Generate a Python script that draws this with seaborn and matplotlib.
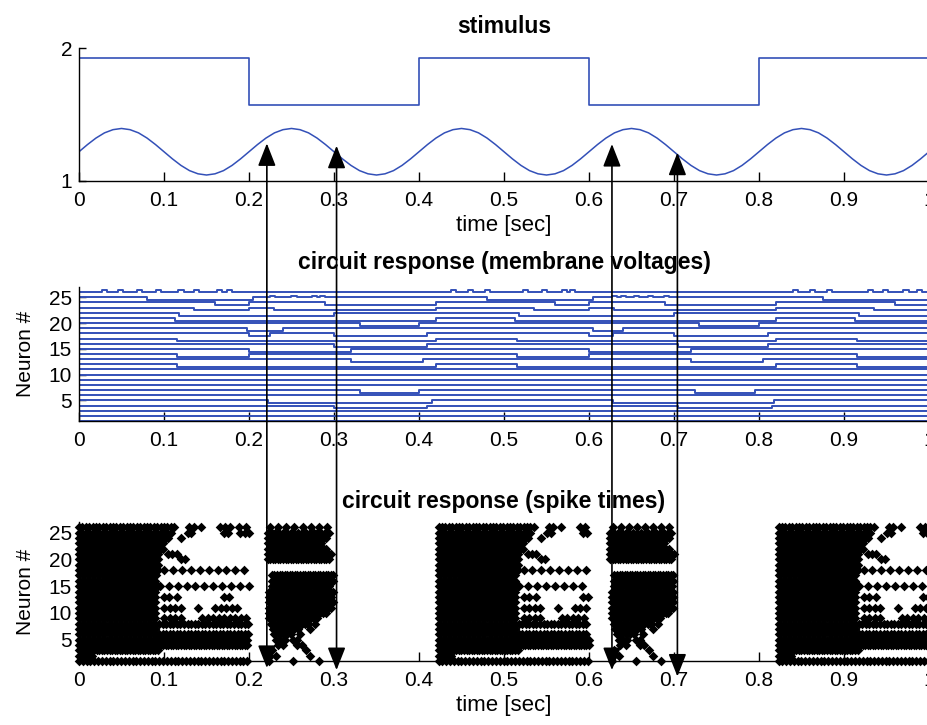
import numpy as np
import pandas as pd
import matplotlib.pyplot as plt
import seaborn as sns
from matplotlib.patches import ConnectionPatch

# ---------------- data ----------------
# stimulus panel
square_t = [0.0, 0.2, 0.4, 0.6, 0.8, 1.0]
square_v = [1.922, 1.571, 1.922, 1.571, 1.922, 1.922]

sine_t = [round(0.01 * i, 2) for i in range(101)]
sine_v = [1.220, 1.274, 1.323, 1.362, 1.386, 1.395, 1.386, 1.362, 1.323, 1.274,
          1.220, 1.166, 1.117, 1.078, 1.054, 1.045, 1.054, 1.078, 1.117, 1.166,
          1.220, 1.274, 1.323, 1.362, 1.386, 1.395, 1.386, 1.362, 1.323, 1.274,
          1.220, 1.166, 1.117, 1.078, 1.054, 1.045, 1.054, 1.078, 1.117, 1.166,
          1.220, 1.274, 1.323, 1.362, 1.386, 1.395, 1.386, 1.362, 1.323, 1.274,
          1.220, 1.166, 1.117, 1.078, 1.054, 1.045, 1.054, 1.078, 1.117, 1.166,
          1.220, 1.274, 1.323, 1.362, 1.386, 1.395, 1.386, 1.362, 1.323, 1.274,
          1.220, 1.166, 1.117, 1.078, 1.054, 1.045, 1.054, 1.078, 1.117, 1.166,
          1.220, 1.274, 1.323, 1.362, 1.386, 1.395, 1.386, 1.362, 1.323, 1.274,
          1.220, 1.166, 1.117, 1.078, 1.054, 1.045, 1.054, 1.078, 1.117, 1.166,
          1.220]

# membrane voltages: intervals where each neuron's trace sits in the lower state
neurons = list(range(1, 27))
volt_shift = -0.55
volt_down = [
    [], [], [],                                                              # 1-3
    [(0.30, 0.41), (0.705, 0.815)],                                          # 4
    [(0.222, 0.415), (0.628, 0.818)],                                        # 5
    [],                                                                      # 6
    [(0.33, 0.40), (0.725, 0.795)],                                          # 7
    [], [], [], [],                                                          # 8-11
    [(0.115, 0.42), (0.515, 0.82), (0.915, 1.0)],                            # 12
    [(0.32, 0.405), (0.72, 0.805)],                                          # 13
    [(0.115, 0.20), (0.515, 0.60), (0.915, 1.0)],                            # 14
    [(0.20, 0.32), (0.60, 0.72)],                                            # 15
    [(0.30, 0.41), (0.705, 0.81)],                                           # 16
    [(0.115, 0.42), (0.515, 0.82), (0.915, 1.0)],                            # 17
    [(0.20, 0.225), (0.30, 0.41), (0.60, 0.628), (0.70, 0.81)],              # 18
    [(0.198, 0.24), (0.605, 0.64)],                                          # 19
    [(0.33, 0.40), (0.73, 0.80)],                                            # 20
    [(0.113, 0.42), (0.513, 0.82), (0.913, 1.0)],                            # 21
    [(0.118, 0.30), (0.518, 0.70), (0.918, 1.0)],                            # 22
    [(0.135, 0.20), (0.23, 0.42), (0.535, 0.60), (0.63, 0.82), (0.935, 1.0)],  # 23
    [(0.16, 0.20), (0.29, 0.42), (0.56, 0.60), (0.69, 0.82), (0.96, 1.0)],   # 24
    [(0.08, 0.205), (0.48, 0.605), (0.875, 1.0)],                            # 25
    [],                                                                      # 26
]
blips_26 = [0.027, 0.046, 0.068, 0.091, 0.117, 0.135, 0.162, 0.174,
            0.438, 0.458, 0.478, 0.522, 0.545, 0.568, 0.578,
            0.84, 0.86, 0.88, 0.928, 0.946, 0.97, 0.986]
blips_25 = [0.225, 0.25, 0.274, 0.283, 0.627, 0.638, 0.653, 0.669, 0.688]

# spike raster: per-neuron firing segments (start, end, inter-spike interval)
high_onsets = [0.0, 0.423, 0.823]
high_ends = [0.2, 0.6, 1.0]
spike_high = [
    [(0.0, 0.2, 0.0045)],                                                   # 1
    [(0.0, 0.015, 0.003)],                                                  # 2
    [(0.0, 0.095, 0.003)],                                                  # 3
    [(0.0, 0.2, 0.003)],                                                    # 4
    [(0.0, 0.2, 0.003)],                                                    # 5
    [(0.0, 0.09, 0.006), (0.09, 0.2, 0.0042)],                              # 6
    [(0.0, 0.09, 0.003)],                                                   # 7
    [(0.0, 0.09, 0.006), (0.09, 0.2, 0.0042)],                              # 8
    [(0.0, 0.09, 0.003), (0.10, 0.125, 0.0065), (0.145, 0.2, 0.0065)],      # 9
    [(0.0, 0.09, 0.003)],                                                   # 10
    [(0.0, 0.09, 0.003), (0.10, 0.12, 0.0065), (0.14, 0.14, 1.0),
     (0.16, 0.19, 0.0065)],                                                 # 11
    [(0.0, 0.09, 0.003)],                                                   # 12
    [(0.0, 0.09, 0.003), (0.10, 0.106, 0.006), (0.115, 0.115, 1.0),
     (0.17, 0.176, 0.006)],                                                 # 13
    [(0.0, 0.09, 0.003)],                                                   # 14
    [(0.0, 0.095, 0.003), (0.095, 0.2, 0.0105)],                            # 15
    [(0.0, 0.09, 0.003)],                                                   # 16
    [(0.0, 0.03, 0.006), (0.03, 0.09, 0.003)],                              # 17
    [(0.0, 0.095, 0.003), (0.10, 0.2, 0.0105)],                             # 18
    [(0.0, 0.095, 0.003)],                                                  # 19
    [(0.0, 0.095, 0.003), (0.12, 0.125, 0.005)],                            # 20
    [(0.0, 0.095, 0.003), (0.105, 0.115, 0.005)],                           # 21
    [(0.0, 0.10, 0.003)],                                                   # 22
    [(0.0, 0.10, 0.003)],                                                   # 23
    [(0.0, 0.105, 0.003), (0.12, 0.12, 1.0)],                               # 24
    [(0.0, 0.11, 0.004), (0.128, 0.132, 0.004), (0.17, 0.175, 0.005),
     (0.19, 0.2, 0.005)],                                                   # 25
    [(0.0, 0.115, 0.004), (0.13, 0.135, 0.005), (0.144, 0.144, 1.0),
     (0.166, 0.18, 0.006), (0.188, 0.196, 0.008)],                          # 26
]
low_onsets = [0.222, 0.625]
low_ends = [0.300, 0.700]
spike_low = [
    [(0.002, 0.002, 1.0), (0.03, 0.03, 1.0), (0.06, 0.06, 1.0)],            # 1
    [(0.003, 0.01, 0.007), (0.05, 0.05, 1.0)],                              # 2
    [(0.005, 0.005, 1.0), (0.045, 0.045, 1.0)],                             # 3
    [(0.012, 0.018, 0.006), (0.035, 0.04, 0.005)],                          # 4
    [(0.01, 0.02, 0.005), (0.03, 0.035, 0.005)],                            # 5
    [(0.008, 0.03, 0.005), (0.038, 0.038, 1.0)],                            # 6
    [(0.006, 0.04, 0.005), (0.05, 0.05, 1.0)],                              # 7
    [(0.004, 0.05, 0.004), (0.056, 0.056, 1.0)],                            # 8
    [(0.002, 0.06, 0.0035)],                                                # 9
    [(0.002, 0.07, 0.003)],                                                 # 10
    [(0.002, 0.075, 0.003)],                                                # 11
    [(0.002, 0.078, 0.003)],                                                # 12
    [(0.002, 0.075, 0.0045)],                                               # 13
    [(0.002, 0.078, 0.003)],                                                # 14
    [(0.005, 0.075, 0.0045)],                                               # 15
    [(0.005, 0.078, 0.003)],                                                # 16
    [(0.005, 0.078, 0.003)],                                                # 17
    [],                                                                     # 18
    [],                                                                     # 19
    [(0.0, 0.072, 0.003)],                                                  # 20
    [(0.0, 0.075, 0.003)],                                                  # 21
    [(0.0, 0.07, 0.003)],                                                   # 22
    [(0.0, 0.065, 0.003)],                                                  # 23
    [(0.0, 0.07, 0.003)],                                                   # 24
    [(0.0, 0.075, 0.0045)],                                                 # 25
    [(0.003, 0.075, 0.0095)],                                               # 26
]

# double arrows: x position, tip in spike panel, tip in stimulus panel
arrow_x = [0.221, 0.303, 0.627, 0.704]
arrow_bottom = [-0.3, -0.7, -0.7, -1.9]
arrow_top = [1.283, 1.265, 1.278, 1.213]

xticks = [0, 0.1, 0.2, 0.3, 0.4, 0.5, 0.6, 0.7, 0.8, 0.9, 1.0]
xticklabels = ["0", "0.1", "0.2", "0.3", "0.4", "0.5", "0.6", "0.7", "0.8", "0.9", "1"]
neuron_ticks = [5, 10, 15, 20, 25]

# ---------------- frames ----------------
stim_df = pd.concat([
    pd.DataFrame({"time": square_t, "value": square_v, "sig": "square"}),
    pd.DataFrame({"time": sine_t, "value": sine_v, "sig": "sine"}),
])

volt_rows = []
for n, downs in zip(neurons, volt_down):
    blips = blips_26 if n == 26 else (blips_25 if n == 25 else [])
    pts = {0.0, 1.0}
    for s, e in downs:
        pts.update([s, e])
    for b in blips:
        pts.update([b, b + 0.006])
    for t in sorted(pts):
        lvl = n
        if any(s <= t < e for s, e in downs):
            lvl += volt_shift
        if any(b <= t < b + 0.006 for b in blips):
            lvl += 0.35
        volt_rows.append((t, lvl, n))
volt_df = pd.DataFrame(volt_rows, columns=["time", "level", "neuron"])

spike_rows = []
for templ, onsets, ends in [(spike_high, high_onsets, high_ends),
                            (spike_low, low_onsets, low_ends)]:
    for n, segs in zip(neurons, templ):
        for on, end in zip(onsets, ends):
            for s, e, isi in segs:
                t0, t1 = on + s, min(on + e, end)
                if t0 > end:
                    continue
                for t in np.arange(t0, t1 + 1e-9, isi):
                    spike_rows.append((t, n))
spike_df = pd.DataFrame(spike_rows, columns=["time", "neuron"])

# ---------------- plot ----------------
sns.set_style("ticks")
plt.rcParams["font.family"] = ["Liberation Sans", "DejaVu Sans"]
plt.rcParams.update({
    "xtick.direction": "in", "ytick.direction": "in",
    "xtick.major.size": 6.5, "ytick.major.size": 5,
    "xtick.major.width": 1.0, "ytick.major.width": 1.0,
    "axes.linewidth": 1.0, "axes.edgecolor": "black",
    "xtick.color": "black", "ytick.color": "black",
    "text.color": "black", "axes.labelcolor": "black",
    "xtick.labelsize": 15, "ytick.labelsize": 15,
})

blue = "#3350b8"
W, H = 928, 725
fig = plt.figure(figsize=(W / 100, H / 100), dpi=100)
ax1 = fig.add_axes([79 / W, 1 - 181 / H, 850 / W, 133 / H])
ax2 = fig.add_axes([79 / W, 1 - 421 / H, 850 / W, 134 / H])
ax3 = fig.add_axes([79 / W, 1 - 661 / H, 850 / W, 139 / H])

sns.lineplot(data=stim_df[stim_df.sig == "square"], x="time", y="value",
             color=blue, lw=1.2, drawstyle="steps-post", ax=ax1)
sns.lineplot(data=stim_df[stim_df.sig == "sine"], x="time", y="value",
             color=blue, lw=1.1, ax=ax1)
ax1.set_ylim(1, 2)
ax1.set_yticks([1, 2])
ax1.set_xlabel("time [sec]", fontsize=16, labelpad=4)
ax1.set_ylabel("")
ax1.set_title("stimulus", fontsize=16.5, fontweight="bold", pad=11)

sns.lineplot(data=volt_df, x="time", y="level", units="neuron", estimator=None,
             color=blue, lw=1.4, drawstyle="steps-post", ax=ax2)
ax2.set_ylim(1, 27)
ax2.set_xlabel("")
ax2.set_title("circuit response (membrane voltages)", fontsize=16.5,
              fontweight="bold", pad=13)

sns.scatterplot(data=spike_df, x="time", y="neuron", marker="D", s=24,
                color="black", linewidth=0, ax=ax3, clip_on=False)
ax3.set_ylim(1, 27)
ax3.set_xlabel("time [sec]", fontsize=16, labelpad=4)
ax3.set_title("circuit response (spike times)", fontsize=16.5,
              fontweight="bold", pad=10)

for ax in (ax2, ax3):
    ax.set_yticks(neuron_ticks)
    ax.set_ylabel("Neuron #", fontsize=15)
    ax.yaxis.set_label_coords(-0.052, 0.5)

for ax in (ax1, ax2, ax3):
    ax.set_xlim(0, 1)
    ax.set_xticks(xticks)
    ax.set_xticklabels(xticklabels)
    ax.tick_params(axis="x", pad=7)
    ax.tick_params(axis="y", pad=5)
    ax.spines["top"].set_visible(False)
    ax.spines["right"].set_visible(False)
    ax.patch.set_alpha(0)

for x, yb, yt in zip(arrow_x, arrow_bottom, arrow_top):
    con = ConnectionPatch(xyA=(x, yb), coordsA=ax3.transData,
                          xyB=(x, yt), coordsB=ax1.transData,
                          arrowstyle="<|-|>,head_length=14,head_width=5.5",
                          mutation_scale=1, color="black", lw=1.2, zorder=10)
    fig.add_artist(con)

fig.savefig("out.png", dpi=100)
